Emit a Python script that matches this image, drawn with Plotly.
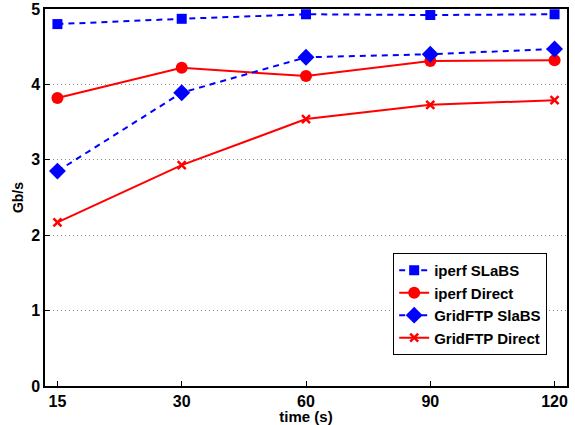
import plotly.graph_objects as go

times = ["15", "30", "60", "90", "120"]
iperf_slabs = [4.80, 4.87, 4.93, 4.92, 4.93]
iperf_direct = [3.82, 4.22, 4.11, 4.31, 4.32]
gridftp_slabs = [2.85, 3.89, 4.36, 4.40, 4.47]
gridftp_direct = [2.17, 2.93, 3.54, 3.73, 3.79]
y_ticks = [0, 1, 2, 3, 4, 5]

BLUE = "#0000ff"
RED = "#ff0000"
FAM = "Liberation Sans, Arial, sans-serif"

fig = go.Figure()
fig.add_trace(go.Scatter(x=times, y=iperf_slabs, name="iperf SLaBS", mode="lines+markers",
                         line=dict(color=BLUE, width=2, dash="6px,5px"),
                         marker=dict(symbol="square", size=10, color=BLUE)))
fig.add_trace(go.Scatter(x=times, y=iperf_direct, name="iperf Direct", mode="lines+markers",
                         line=dict(color=RED, width=2),
                         marker=dict(symbol="circle", size=12, color=RED)))
fig.add_trace(go.Scatter(x=times, y=gridftp_slabs, name="GridFTP SlaBS", mode="lines+markers",
                         line=dict(color=BLUE, width=2, dash="6px,5px"),
                         marker=dict(symbol="diamond", size=13, color=BLUE)))
fig.add_trace(go.Scatter(x=times, y=gridftp_direct, name="GridFTP Direct", mode="lines+markers",
                         line=dict(color=RED, width=2),
                         marker=dict(symbol="x-thin", size=8, color=RED, line=dict(color=RED, width=2.5))))

fig.update_layout(
    width=575, height=425,
    margin=dict(l=45, r=8, t=9, b=39),
    paper_bgcolor="white", plot_bgcolor="white",
    font=dict(family=FAM, size=14, color="black"),
    showlegend=True,
    legend=dict(x=0.667, y=0.353, xanchor="left", yanchor="top",
                bordercolor="black", borderwidth=1, bgcolor="white",
                font=dict(family=FAM, size=15, color="black", weight="bold"),
                tracegroupgap=0, itemwidth=30),
)
fig.update_xaxes(
    type="category", range=[-0.1, 4.1], automargin=False,
    showline=True, linecolor="black", linewidth=1.5, mirror=True,
    ticks="inside", ticklen=5, tickcolor="black",
    showgrid=False, zeroline=False,
    tickfont=dict(family=FAM, size=16, color="black", weight="bold"),
    title=dict(text="time (s)", standoff=0,
               font=dict(family=FAM, size=15, color="black", weight="bold")),
)
fig.update_yaxes(
    range=[0, 5], tickvals=y_ticks, automargin=False,
    showline=True, linecolor="black", linewidth=1.5, mirror=True,
    ticks="inside", ticklen=5, tickcolor="black",
    showgrid=True, gridcolor="#888888", griddash="1px,3px", gridwidth=1,
    zeroline=False,
    tickfont=dict(family=FAM, size=16, color="black", weight="bold"),
    title=dict(text="Gb/s", standoff=4,
               font=dict(family=FAM, size=14, color="black", weight="bold")),
)

fig.write_html("out.html", config={"displayModeBar": False},
               post_script="document.body.style.margin='0px';")
